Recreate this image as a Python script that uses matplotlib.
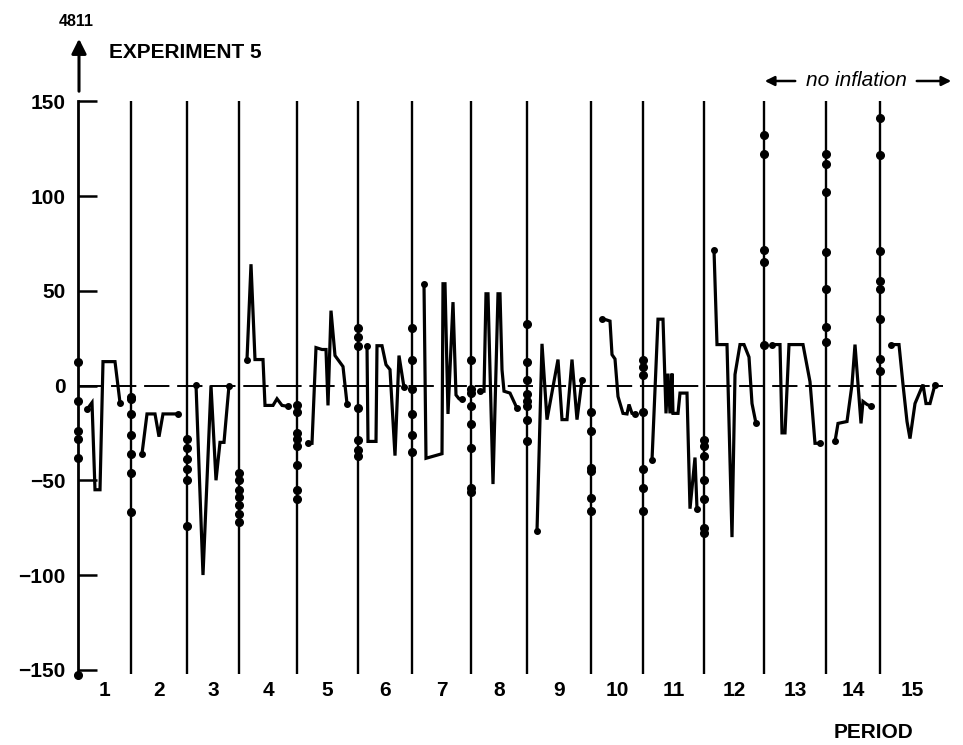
import numpy as np
import matplotlib
matplotlib.use("Agg")
import matplotlib.pyplot as plt

# period boundaries on the time axis (start of each period, last = end of period 15)
bounds = [0.0, 5.3, 10.9, 16.1, 21.9, 28.0, 33.4, 39.3, 44.9, 51.3, 56.5, 62.6, 68.6, 74.8, 80.2, 86.7]
period_labels = [str(i) for i in range(1, 16)]
yticks = [150, 100, 50, 0, -50, -100, -150]
ytick_labels = ['150', '100', '50', '0', '\u221250', '\u2212100', '\u2212150']

# opening values, plotted on the boundary line at the start of each period
p1_dots = [12.6, -8.4, -24, -28, -38, -153]
p2_dots = [-5.8, -7, -15, -26, -36, -46, -67]
p3_dots = [-28, -33, -39, -44, -50, -74]
p4_dots = [-46, -50, -55, -59, -63, -68, -72]
p5_dots = [-10.5, -14, -25, -28, -32, -42, -55, -60]
p6_dots = [30.5, 25.8, 21, -12, -29, -34, -37]
p7_dots = [30.5, 13.7, -1.6, -15, -26, -35]
p8_dots = [13.7, -2, -4, -11, -20.5, -33, -54, -56]
p9_dots = [32.6, 12.6, 3, -4.7, -8.4, -11, -18, -29.5]
p10_dots = [-14, -24, -43.7, -45, -59.5, -66]
p11_dots = [13.7, 10, 5.8, -14, -44, -54, -66]
p12_dots = [-29, -32, -37, -50, -60, -75, -78]
p13_dots = [132, 122, 71.6, 65, 21.6]
p14_dots = [122, 117, 102, 70.5, 51, 31, 23]
p15_dots = [141, 121.6, 71, 55, 51, 35, 14, 7.9]

# traces within each period
p1_t = [0.9, 1.4, 1.7, 2.2, 2.5, 3.7, 4.2]
p1_v = [-12.6, -9, -55, -55, 12.6, 12.6, -9]
p2_t = [6.4, 6.9, 7.7, 8.1, 8.5, 10.0]
p2_v = [-36, -15, -15, -27, -15, -15]
p3_t = [11.8, 12.5, 13.3, 13.8, 14.2, 14.6, 15.1]
p3_v = [0.5, -100, 0, -50, -30, -30, 0]
p4_t = [16.9, 17.3, 17.7, 18.5, 18.7, 19.5, 19.9, 20.4, 21.0]
p4_v = [13.7, 64, 13.7, 13.7, -10.5, -10.5, -7, -10.5, -11]
p5_t = [23.0, 23.4, 23.8, 24.4, 24.8, 25.0, 25.3, 25.7, 26.5, 26.9]
p5_v = [-30.5, -30.5, 20, 19, 19, -10.5, 39.5, 15.8, 10, -9.5]
p6_t = [28.9, 29.0, 29.8, 29.9, 30.4, 30.8, 31.2, 31.7, 32.1, 32.6]
p6_v = [21, -29.5, -29.5, 21, 21, 11, 8.4, -37, 15.8, -1]
p7_t = [34.6, 34.8, 36.4, 36.5, 36.7, 37.0, 37.5, 37.8, 38.1, 38.4]
p7_v = [53.7, -38.4, -36, 53.7, 53.7, -15, 44, -5, -7, -7]
p8_t = [40.2, 40.6, 40.8, 41.0, 41.5, 42.0, 42.2, 42.4, 42.6, 43.2, 43.9]
p8_v = [-3, -3, 48.4, 48.4, -52, 48.4, 48.4, 8.4, -3, -4, -12]
p9_t = [45.9, 46.4, 46.9, 48.0, 48.4, 48.9, 49.4, 49.9, 50.4]
p9_v = [-77, 22, -18, 13.7, -18, -18, 13.7, -18, 3]
p10_t = [52.4, 52.8, 53.2, 53.4, 53.7, 54.0, 54.5, 54.9, 55.1, 55.4, 55.7]
p10_v = [35, 34.7, 34, 16.3, 14, -5.8, -14.7, -15, -10, -14.7, -15]
p11_t = [57.4, 58.0, 58.5, 58.8, 59.0, 59.2, 59.4, 59.5, 60.0, 60.2, 60.9, 61.2, 61.7, 61.9]
p11_v = [-39.5, 35, 35, -14.7, 6.3, -14.7, 6.3, -14.7, -14.7, -4, -4, -65, -38, -65]
p12_t = [63.6, 63.9, 64.9, 65.4, 65.7, 66.2, 66.6, 67.1, 67.4, 67.8]
p12_v = [71.6, 21.6, 21.6, -80, 5.8, 21.6, 21.6, 15, -9.5, -20]
p13_t = [69.4, 70.2, 70.4, 70.7, 71.1, 72.5, 73.2, 73.7, 74.2]
p13_v = [21.6, 21.6, -25, -25, 21.6, 21.6, 2, -30.5, -30.5]
p14_t = [75.7, 76.0, 76.9, 77.4, 77.7, 78.3, 78.5, 78.9, 79.3]
p14_v = [-29.5, -20, -19, 0.5, 21.6, -20, -8.4, -10, -11]
p15_t = [81.3, 82.1, 82.5, 82.9, 83.2, 83.7, 84.5, 84.8, 85.2, 85.7]
p15_v = [21.6, 21.6, 0.5, -19, -28, -9.5, 0.5, -9.5, -9.5, 0.5]

dots = [p1_dots, p2_dots, p3_dots, p4_dots, p5_dots, p6_dots, p7_dots, p8_dots,
        p9_dots, p10_dots, p11_dots, p12_dots, p13_dots, p14_dots, p15_dots]
traces = [(p1_t, p1_v), (p2_t, p2_v), (p3_t, p3_v), (p4_t, p4_v), (p5_t, p5_v),
          (p6_t, p6_v), (p7_t, p7_v), (p8_t, p8_v), (p9_t, p9_v), (p10_t, p10_v),
          (p11_t, p11_v), (p12_t, p12_v), (p13_t, p13_v), (p14_t, p14_v), (p15_t, p15_v)]

plt.rcParams['font.family'] = ['Liberation Sans', 'DejaVu Sans']

W, H = 963, 745
fig = plt.figure(figsize=(W / 100, H / 100), dpi=100)
ax = fig.add_axes([78 / W, 1 - 680 / H, 872 / W, 585 / H])
ax.set_xlim(0, 87.2)
ax.set_ylim(-155.4, 153.3)

# zero line, dashed
ax.plot([0, 86.5], [0, 0], color='black', lw=1.4, linestyle=(0, (13, 4)), zorder=1)

# period boundaries
ax.vlines(bounds[1:15], -152, 150, color='black', lw=1.7, zorder=2)

for b, d in zip(bounds[:15], dots):
    ax.plot([b] * len(d), d, 'o', color='black', ms=5.5, zorder=3, clip_on=False)

for t, v in traces:
    ax.plot(t, v, '-', color='black', lw=2.3, solid_joinstyle='miter', zorder=3)
    ax.plot([t[0], t[-1]], [v[0], v[-1]], 'o', color='black', ms=4, zorder=3)

# axis
for s in ['top', 'right', 'bottom']:
    ax.spines[s].set_visible(False)
ax.spines['left'].set_bounds(-153, 150)
ax.spines['left'].set_linewidth(2.0)
ax.set_xticks([])
ax.set_yticks(yticks)
ax.set_yticklabels(ytick_labels)
ax.tick_params(axis='y', direction='in', length=14, width=1.8, pad=9,
               labelsize=15)
for lab in ax.get_yticklabels():
    lab.set_fontweight('bold')

for i, lab in enumerate(period_labels):
    mid = (bounds[i] + bounds[i + 1]) / 2
    ax.text(mid, -161, lab, ha='center', va='center', fontsize=15,
            fontweight='bold', clip_on=False)

fig.text(873 / W, 1 - 733 / H, 'PERIOD', ha='center', va='center',
         fontsize=15, fontweight='bold')
fig.text(109 / W, 1 - 53 / H, 'EXPERIMENT 5', ha='left', va='center',
         fontsize=15, fontweight='bold')
fig.text(76 / W, 1 - 21 / H, '4811', ha='center', va='center',
         fontsize=11.5, fontweight='bold')

ax.annotate('', xy=(79, H - 36), xytext=(79, H - 94), xycoords='figure pixels',
            textcoords='figure pixels',
            arrowprops=dict(arrowstyle='-|>', lw=2.2, color='black', mutation_scale=22))

fig.text(856 / W, 1 - 81 / H, 'no inflation', ha='center', va='center',
         fontsize=15, style='italic')
ax.annotate('', xy=(762, H - 81), xytext=(798, H - 81), xycoords='figure pixels',
            textcoords='figure pixels',
            arrowprops=dict(arrowstyle='-|>', lw=1.8, color='black', mutation_scale=14))
ax.annotate('', xy=(954, H - 81), xytext=(914, H - 81), xycoords='figure pixels',
            textcoords='figure pixels',
            arrowprops=dict(arrowstyle='-|>', lw=1.8, color='black', mutation_scale=14))

fig.savefig('out.png', dpi=100)
